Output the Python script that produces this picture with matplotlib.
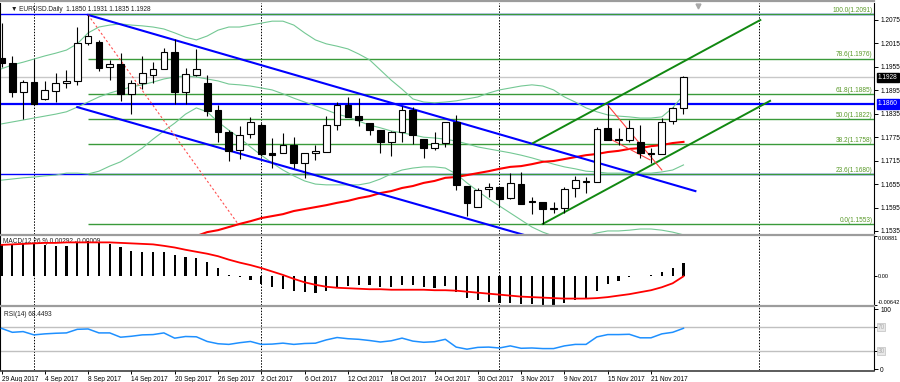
import numpy as np
import matplotlib
matplotlib.use('Agg')
import matplotlib.pyplot as plt
from matplotlib.lines import Line2D

plt.rcParams['font.family'] = ['Liberation Sans', 'DejaVu Sans']

# ---- data ----
symbol_title = '\u25bc EURUSD.Daily  1.1850 1.1931 1.1835 1.1928'
macd_title = 'MACD(12,26,9) 0.00292 -0.00009'
rsi_title = 'RSI(14) 68.4493'

date_ticks = [0, 4, 8, 12, 16, 20, 24, 28, 32, 36, 40, 44, 48, 52, 56, 60]
date_labels = ['29 Aug 2017', '4 Sep 2017', '8 Sep 2017', '14 Sep 2017', '20 Sep 2017',
               '26 Sep 2017', '2 Oct 2017', '6 Oct 2017', '12 Oct 2017', '18 Oct 2017',
               '24 Oct 2017', '30 Oct 2017', '3 Nov 2017', '9 Nov 2017', '15 Nov 2017',
               '21 Nov 2017']
month_starts = [3, 24, 46, 70]

opens = [1.1978, 1.1965, 1.1891, 1.1916, 1.1873, 1.1893, 1.1914, 1.1919, 1.2016, 1.2019,
         1.1955, 1.1962, 1.1886, 1.1914, 1.1934, 1.1950, 1.1993, 1.1891, 1.1934, 1.1914,
         1.1845, 1.1788, 1.1742, 1.1783, 1.1806, 1.1735, 1.1735, 1.1755, 1.1709, 1.1735,
         1.1737, 1.1806, 1.1857, 1.1829, 1.1811, 1.1793, 1.1763, 1.1788, 1.1845, 1.1770,
         1.1747, 1.1760, 1.1814, 1.1650, 1.1596, 1.1642, 1.1647, 1.1619, 1.1655, 1.1612,
         1.1609, 1.1594, 1.1594, 1.1645, 1.1660, 1.1660, 1.1799, 1.1770, 1.1768, 1.1763,
         1.1735, 1.1732, 1.1816, 1.1850]
highs = [1.2067, 1.1983, 1.1921, 1.1975, 1.1919, 1.1939, 1.1947, 1.2057, 1.2088, 1.2024,
         1.1973, 1.1991, 1.1921, 1.1983, 1.1967, 1.2003, 1.2026, 1.1952, 1.2001, 1.1934,
         1.1857, 1.1793, 1.1804, 1.1827, 1.1811, 1.1773, 1.1786, 1.1776, 1.1735, 1.1755,
         1.1829, 1.1865, 1.1878, 1.1875, 1.1811, 1.1793, 1.1791, 1.1855, 1.1852, 1.1770,
         1.1788, 1.1814, 1.1832, 1.1650, 1.1645, 1.1657, 1.1647, 1.1683, 1.1686, 1.1622,
         1.1609, 1.1609, 1.1647, 1.1676, 1.1673, 1.1801, 1.1857, 1.1799, 1.1819, 1.1806,
         1.1747, 1.1824, 1.1852, 1.1931]
lows = [1.1955, 1.1878, 1.1822, 1.1857, 1.1870, 1.1865, 1.1901, 1.1909, 1.2011, 1.1944,
        1.1921, 1.1868, 1.1834, 1.1898, 1.1914, 1.1950, 1.1860, 1.1860, 1.1932, 1.1829,
        1.1763, 1.1714, 1.1719, 1.1773, 1.1727, 1.1696, 1.1735, 1.1696, 1.1671, 1.1717,
        1.1737, 1.1793, 1.1827, 1.1804, 1.1781, 1.1735, 1.1727, 1.1763, 1.1758, 1.1722,
        1.1742, 1.1750, 1.1640, 1.1573, 1.1596, 1.1622, 1.1596, 1.1617, 1.1604, 1.1578,
        1.1553, 1.1581, 1.1581, 1.1622, 1.1632, 1.1660, 1.1768, 1.1755, 1.1763, 1.1722,
        1.1709, 1.1732, 1.1808, 1.1835]
closes = [1.1965, 1.1891, 1.1916, 1.1860, 1.1896, 1.1914, 1.1919, 1.2016, 1.2034, 1.1952,
          1.1962, 1.1886, 1.1914, 1.1939, 1.1950, 1.1993, 1.1891, 1.1937, 1.1950, 1.1842,
          1.1788, 1.1740, 1.1781, 1.1814, 1.1732, 1.1729, 1.1755, 1.1709, 1.1735, 1.1740,
          1.1806, 1.1857, 1.1827, 1.1819, 1.1793, 1.1763, 1.1788, 1.1845, 1.1781, 1.1747,
          1.1760, 1.1814, 1.1653, 1.1607, 1.1640, 1.1647, 1.1617, 1.1658, 1.1604, 1.1609,
          1.1591, 1.1592, 1.1642, 1.1665, 1.1663, 1.1796, 1.1768, 1.1768, 1.1799, 1.1735,
          1.1732, 1.1814, 1.1850, 1.1928]

bb_upper = [1.1950, 1.1960, 1.1967, 1.1975, 1.1983, 1.1990, 1.1998, 1.2014, 1.2042, 1.2057,
            1.2062, 1.2065, 1.2062, 1.2060, 1.2057, 1.2052, 1.2042, 1.2031, 1.2024, 1.2034,
            1.2049, 1.2057, 1.2057, 1.2062, 1.2067, 1.2072, 1.2072, 1.2062, 1.2042, 1.2024,
            1.2014, 1.2008, 1.2001, 1.1988, 1.1973, 1.1947, 1.1921, 1.1898, 1.1873, 1.1865,
            1.1863, 1.1865, 1.1868, 1.1873, 1.1878, 1.1888, 1.1896, 1.1901, 1.1906, 1.1909,
            1.1906, 1.1896, 1.1878, 1.1865, 1.1850, 1.1840, 1.1832, 1.1829, 1.1827, 1.1824,
            1.1824, 1.1827, 1.1850, 1.1883]
bb_mid = [1.1809, 1.1814, 1.1819, 1.1824, 1.1829, 1.1834, 1.1840, 1.1852, 1.1865, 1.1878,
          1.1888, 1.1896, 1.1904, 1.1909, 1.1916, 1.1924, 1.1929, 1.1932, 1.1929, 1.1924,
          1.1919, 1.1911, 1.1909, 1.1906, 1.1901, 1.1896, 1.1886, 1.1875, 1.1865, 1.1855,
          1.1845, 1.1834, 1.1827, 1.1816, 1.1806, 1.1799, 1.1791, 1.1786, 1.1781, 1.1775,
          1.1773, 1.1770, 1.1765, 1.1758, 1.1750, 1.1745, 1.1740, 1.1735, 1.1729, 1.1722,
          1.1714, 1.1706, 1.1699, 1.1694, 1.1688, 1.1686, 1.1683, 1.1683, 1.1683, 1.1683,
          1.1683, 1.1686, 1.1691, 1.1704]
bb_lower = [1.1665, 1.1668, 1.1671, 1.1673, 1.1676, 1.1678, 1.1683, 1.1683, 1.1681, 1.1688,
            1.1701, 1.1712, 1.1729, 1.1747, 1.1770, 1.1791, 1.1811, 1.1834, 1.1850, 1.1840,
            1.1814, 1.1793, 1.1773, 1.1750, 1.1729, 1.1709, 1.1691, 1.1676, 1.1663, 1.1655,
            1.1653, 1.1653, 1.1653, 1.1653, 1.1658, 1.1668, 1.1681, 1.1691, 1.1696, 1.1699,
            1.1699, 1.1696, 1.1681, 1.1658, 1.1637, 1.1617, 1.1599, 1.1581, 1.1563, 1.1545,
            1.1532, 1.1522, 1.1517, 1.1517, 1.1522, 1.1530, 1.1535, 1.1535, 1.1537, 1.1540,
            1.1540, 1.1537, 1.1532, 1.1525]

ma_start = 18
ma_vals = [1.1522, 1.1532, 1.1537, 1.1545, 1.1553, 1.1560, 1.1568, 1.1573, 1.1578, 1.1586,
           1.1591, 1.1596, 1.1601, 1.1607, 1.1612, 1.1619, 1.1624, 1.1632, 1.1637, 1.1645,
           1.1650, 1.1658, 1.1663, 1.1671, 1.1673, 1.1678, 1.1683, 1.1688, 1.1694, 1.1699,
           1.1701, 1.1706, 1.1712, 1.1714, 1.1719, 1.1724, 1.1729, 1.1732, 1.1737, 1.1740,
           1.1745, 1.1747, 1.1752, 1.1755, 1.1760, 1.1763]

fib_pct = ['100.0', '78.6', '61.8', '50.0', '38.2', '23.6', '0.0']
fib_levels = [1.2091, 1.1976, 1.1885, 1.1822, 1.1758, 1.1680, 1.1553]
fib_start = 8
blue_levels = [1.2091, 1.1860, 1.1680]

# trendline anchors: (bar index, price)
blue_top = [(8.0, 1.2088), (64.1, 1.1637)]
blue_bottom = [(7.0, 1.1852), (48.5, 1.1523)]
red_dashed = [(8.0, 1.2088), (21.85, 1.1553)]
green_top = [(49.1, 1.1760), (70.1, 1.2075)]
green_bottom = [(50.0, 1.1553), (71.0, 1.1868)]
red_thin_a = [(56.0, 1.1857), (61.0, 1.1691)]
red_thin_b = [(56.4, 1.1768), (59.9, 1.1717)]

price_ticks = [1.2075, 1.2015, 1.1955, 1.1895, 1.1835, 1.1775, 1.1715, 1.1655, 1.1595, 1.1535]

macd_hist = [0.0070, 0.0070, 0.0070, 0.0070, 0.0069, 0.0066, 0.0066, 0.0074, 0.0077, 0.0075,
             0.0070, 0.0063, 0.0055, 0.0053, 0.0052, 0.0053, 0.0046, 0.0041, 0.0040, 0.0030,
             0.0018, 0.0003, -0.0003, -0.0008, -0.0017, -0.0024, -0.0028, -0.0034,
             -0.0036, -0.0037, -0.0033, -0.0026, -0.0023, -0.0021, -0.0021, -0.0024, -0.0025,
             -0.0020, -0.0021, -0.0025, -0.0027, -0.0023, -0.0035, -0.0048, -0.0054, -0.0057,
             -0.0060, -0.0060, -0.0062, -0.0063, -0.0064, -0.0064, -0.0060, -0.0054, -0.0048,
             -0.0033, -0.0018, -0.0011, -0.0002, -0.0001, 0.0001, 0.0009, 0.0018, 0.00292]
macd_signal = [0.00685, 0.00696, 0.00707, 0.00718, 0.00729, 0.00729, 0.00740, 0.00740, 0.00740,
               0.00740, 0.00740, 0.00729, 0.00718, 0.00707, 0.00696,
               0.00664, 0.00627, 0.00577, 0.00533, 0.00490, 0.00435, 0.00359, 0.00294, 0.00239,
               0.00174, 0.00098, 0.00022, -0.00065,
               -0.00141, -0.00196, -0.00239, -0.00261, -0.00272, -0.00283, -0.00294, -0.00294,
               -0.00305, -0.00305, -0.00305, -0.00305, -0.00316, -0.00316,
               -0.00326, -0.00348, -0.00370, -0.00392, -0.00413, -0.00435, -0.00457, -0.00468,
               -0.00479, -0.00490, -0.00500, -0.00500, -0.00500, -0.00490,
               -0.00468, -0.00435, -0.00403, -0.00359, -0.00316, -0.00250, -0.00163, -0.00009]
macd_range = (-0.00642, 0.00881)

rsi_vals = [68.3, 61.7, 62.9, 57.4, 59.1, 60.1, 60.7, 66.7, 67.3, 60.7, 60.7, 53.5, 55.1, 57.4,
            57.9, 60.7, 51.9, 54.7, 54.2, 46.4, 42.6, 41.5, 44.3, 46.4, 41.5, 42.0, 43.6, 41.5,
            43.0, 43.5, 49.0, 53.0, 51.0, 50.0, 48.0, 45.5, 47.5, 52.0, 47.0, 45.0, 46.0, 50.0,
            37.0, 33.5, 36.5, 37.0, 35.5, 39.0, 35.0, 35.5, 34.5, 34.5, 39.0, 41.5, 41.5, 54.0,
            57.9, 57.9, 58.4, 52.5, 52.5, 59.1, 61.7, 68.4]
rsi_levels = [70, 30]

# ---- layout (pixels of a 900x382 canvas) ----
W, H = 900.0, 382.0
AX_RIGHT = 874.0
XLIM = (-1.5 / 10.825, (AX_RIGHT - 1.5) / 10.825)
FS = 4.7
GRID_GREEN = '#3a9a3a'


def panel(top, bottom):
    return fig.add_axes([0.0, 1 - bottom / H, AX_RIGHT / W, (bottom - top) / H])


def style_axis(ax):
    ax.set_xlim(*XLIM)
    ax.yaxis.tick_right()
    ax.tick_params(axis='y', length=3, width=0.7, pad=1.5, labelsize=FS, colors='black')
    ax.tick_params(axis='x', bottom=False, labelbottom=False)
    for side in ['top', 'bottom']:
        ax.spines[side].set_visible(False)
    for side in ['left', 'right']:
        ax.spines[side].set_color('black')
        ax.spines[side].set_linewidth(0.8)
    for m in month_starts:
        ax.axvline(m, color='black', lw=0.7, linestyle=(0, (1.5, 1.5)), zorder=1)


def seg(ax, pts, **kw):
    xs = [p[0] for p in pts]
    ys = [p[1] for p in pts]
    ax.plot(xs, ys, **kw)


fig = plt.figure(figsize=(9, 3.82), dpi=100)
fig.patch.set_facecolor('white')

# ---------------- main price panel ----------------
ax = panel(3, 234)
style_axis(ax)
ax.set_ylim(1.15272, 1.21185)
ax.set_yticks(price_ticks)
ax.set_yticklabels(['%.4f' % p for p in price_ticks])

idx = np.arange(len(opens))
ax.axhline(closes[-1], color='#c8c8c8', lw=1.0, zorder=2)
for lv, lw in zip(blue_levels, [1.0, 1.6, 1.0]):
    ax.axhline(lv, color='#0000ff', lw=lw, zorder=2)
ax.hlines(fib_levels, fib_start, XLIM[1], color=GRID_GREEN, lw=1.0, zorder=3)
for pct, lv in zip(fib_pct, fib_levels):
    ax.text(XLIM[1] - 0.15, lv + 0.00005, '%s(%.4f)' % (pct, lv), ha='right', va='bottom',
            fontsize=FS, color='#5a9a2a', zorder=8)

bb_col = '#74c894'
ax.plot(idx, bb_upper, color=bb_col, lw=0.8, zorder=3)
ax.plot(idx, bb_mid, color=bb_col, lw=0.8, zorder=3)
ax.plot(idx, bb_lower, color=bb_col, lw=0.8, zorder=3)
ax.plot(np.arange(ma_start, ma_start + len(ma_vals)), ma_vals, color='#ff0000', lw=1.5, zorder=4)

seg(ax, blue_top, color='#0000ff', lw=1.5, zorder=4)
seg(ax, blue_bottom, color='#0000ff', lw=1.5, zorder=4)
seg(ax, red_dashed, color='#ff5050', lw=0.8, linestyle=(0, (2, 2)), zorder=4)
seg(ax, green_top, color='#118811', lw=1.4, zorder=4)
seg(ax, green_bottom, color='#118811', lw=1.4, zorder=4)
seg(ax, red_thin_a, color='#ff4040', lw=0.8, zorder=4)
seg(ax, red_thin_b, color='#ff4040', lw=0.8, zorder=4)

o, h, l, c = map(np.array, (opens, highs, lows, closes))
ax.vlines(idx, l, h, color='black', lw=0.8, zorder=5)
body_lo = np.minimum(o, c)
body_hi = np.maximum(o, c)
ax.bar(idx, body_hi - body_lo, bottom=body_lo, width=0.62,
       color=np.where(c >= o, 'white', 'black'), edgecolor='black', linewidth=0.8, zorder=6)

ytr = ax.get_yaxis_transform()
ax.text(1.0045, closes[-1], '%.4f' % closes[-1], transform=ytr, ha='left', va='center',
        fontsize=FS, color='white', clip_on=False,
        bbox=dict(boxstyle='square,pad=0.2', fc='black', ec='black'))
ax.text(1.0045, blue_levels[1], '%.4f' % blue_levels[1], transform=ytr, ha='left', va='center',
        fontsize=FS, color='white', clip_on=False,
        bbox=dict(boxstyle='square,pad=0.2', fc='#0000ff', ec='#0000ff'))
ax.text(0.013, 0.985, symbol_title, transform=ax.transAxes, ha='left', va='top',
        fontsize=FS, color='#202020', zorder=9)
ax.plot([64.3], [0.985], transform=ax.get_xaxis_transform(), marker='v', ms=3.5,
        color='#a8a8a8', clip_on=False, zorder=9)

# ---------------- MACD panel ----------------
axm = panel(236, 305)
style_axis(axm)
axm.set_ylim(*macd_range)
axm.set_yticks([macd_range[1], 0.0, macd_range[0]])
axm.set_yticklabels(['%.5f' % macd_range[1], '0.00', '%.5f' % macd_range[0]])
axm.tick_params(axis='y', length=2, pad=0.8, labelsize=4.1)
axm.get_yticklabels()[0].set_va('top')
axm.get_yticklabels()[2].set_va('bottom')
axm.bar(idx, macd_hist, width=0.2, color='black', zorder=4)
axm.plot(idx, macd_signal, color='#ff0000', lw=1.3, zorder=5)
axm.text(0.004, 0.97, macd_title, transform=axm.transAxes, ha='left', va='top',
         fontsize=FS, color='#202020')

# ---------------- RSI panel ----------------
axr = panel(307, 370)
style_axis(axr)
axr.set_ylim(-1.3, 104.0)
axr.set_yticks([100] + rsi_levels + [0])
axr.set_yticklabels(['100', '', '', '0'])
for lv in rsi_levels:
    axr.axhline(lv, color='#c0c0c0', lw=1.0, zorder=2)
    axr.text(1.004, lv, str(lv), transform=axr.get_yaxis_transform(), ha='left', va='center',
             fontsize=FS, color='#b0b0b0', clip_on=False,
             bbox=dict(boxstyle='square,pad=0.1', fc='#e8e8e8', ec='#c0c0c0', lw=0.5))
axr.plot(idx, rsi_vals, color='#1e90ff', lw=1.1, zorder=4)
axr.text(0.005, 0.93, rsi_title, transform=axr.transAxes, ha='left', va='top',
         fontsize=FS, color='#202020')
axr.set_xticks(date_ticks)
axr.set_xticklabels(date_labels, ha='left')
axr.tick_params(axis='x', bottom=True, labelbottom=True, length=3, width=0.7, pad=1,
                labelsize=FS, colors='black')

# panel separators and frame
for y in [1.0, 235.0, 306.0]:
    fig.add_artist(Line2D([0, AX_RIGHT / W], [1 - y / H] * 2, color='#9c9c9c', lw=1.6))
fig.add_artist(Line2D([0, AX_RIGHT / W], [1 - 370.5 / H] * 2, color='#404040', lw=1.2))

fig.savefig('out.png', dpi=100, facecolor='white')
